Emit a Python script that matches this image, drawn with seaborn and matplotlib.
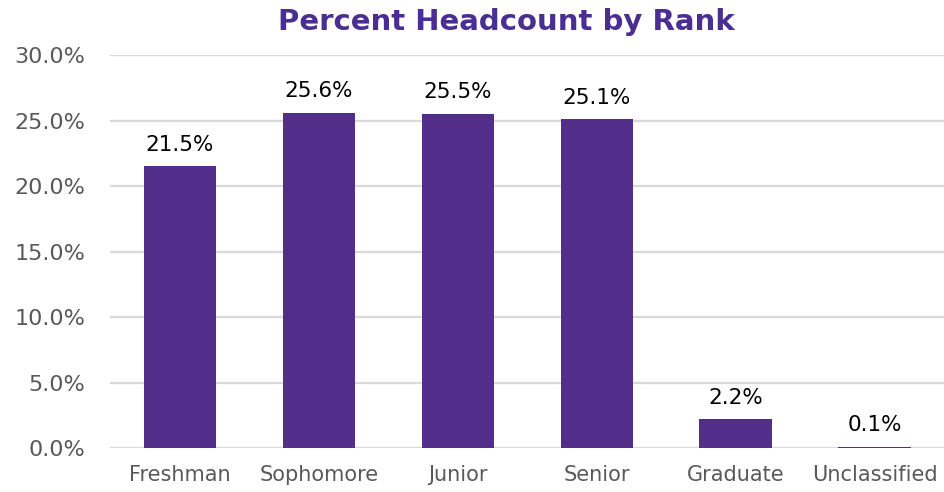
import matplotlib
matplotlib.use("Agg")
import matplotlib.pyplot as plt
import seaborn as sns
import pandas as pd
from matplotlib.ticker import FuncFormatter

ranks = ["Freshman", "Sophomore", "Junior", "Senior", "Graduate", "Unclassified"]
percents = [21.5, 25.6, 25.5, 25.1, 2.2, 0.1]
y_ticks = [0, 5, 10, 15, 20, 25, 30]

df = pd.DataFrame({"Rank": ranks, "Percent": percents})

sns.set_theme(style="white")
plt.rcParams["font.family"] = ["DejaVu Sans"]

fig = plt.figure(figsize=(9.44, 4.92), dpi=100)
ax = fig.add_axes([0.117, 0.089, 0.883, 0.799])

sns.barplot(data=df, x="Rank", y="Percent", color="#522D8A", width=0.52,
            saturation=1, linewidth=0, ax=ax, zorder=3)

ax.set_ylim(0, 30)
ax.set_xlim(-0.5, 5.5)
ax.set_yticks(y_ticks)
ax.yaxis.set_major_formatter(FuncFormatter(lambda v, _: f"{v:.1f}%"))
ax.grid(axis="y", color="#d9d9d9", linewidth=1.6, zorder=0)
ax.set_axisbelow(True)
for s in ax.spines.values():
    s.set_visible(False)
ax.set_xlabel("")
ax.set_ylabel("")
ax.tick_params(axis="y", length=0, labelsize=16, colors="#595959", pad=18)
ax.tick_params(axis="x", length=0, labelsize=15, colors="#595959", pad=12)

for i, v in enumerate(percents):
    ax.text(i, v + 0.9, f"{v:.1f}%", ha="center", va="bottom",
            fontsize=15.5, color="#000000")

fig.text(0.536, 0.955, "Percent Headcount by Rank", ha="center", va="center",
         fontsize=21, fontweight="bold", color="#4B2E91")

fig.savefig("out.png", dpi=100)
